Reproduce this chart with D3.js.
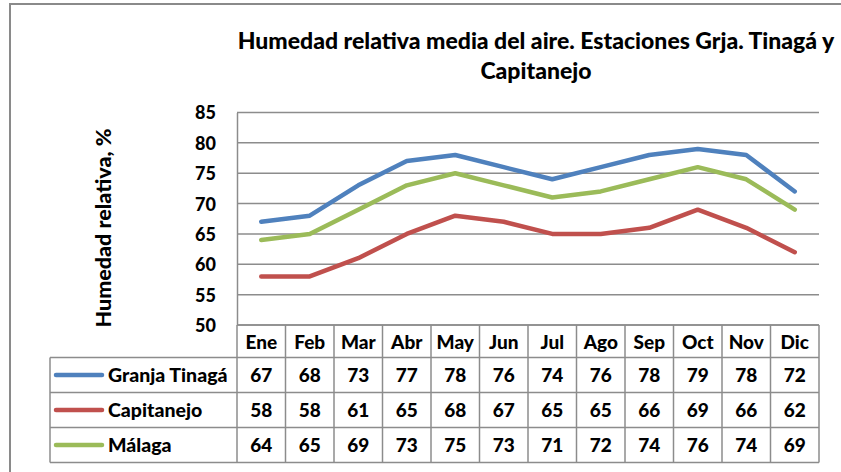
<!DOCTYPE html>
<meta charset="utf-8">
<script src="https://d3js.org/d3.v7.min.js"></script>
<style>
  body { margin: 0; background: #fff; }
  text { font-family: Lato, "Open Sans", sans-serif; font-weight: 900; fill: #000; }
</style>
<div id="chart"></div>
<script>
// data
var months = ["Ene","Feb","Mar","Abr","May","Jun","Jul","Ago","Sep","Oct","Nov","Dic"];
var seriesNames = ["Granja Tinagá","Capitanejo","Málaga"];
var granja = [67,68,73,77,78,76,74,76,78,79,78,72];
var capitanejo = [58,58,61,65,68,67,65,65,66,69,66,62];
var malaga = [64,65,69,73,75,73,71,72,74,76,74,69];
var yTicks = [50,55,60,65,70,75,80,85];
var colours = ["#4F81BD","#C0504D","#9BBB59"];

var series = [granja, capitanejo, malaga];

var W = 841, H = 472;
var plot = {left: 237, right: 819, top: 112.5, bottom: 325};
var headerH = 32.5, rowH = 35, legendLeft = 50;

var svg = d3.select("#chart").append("svg")
    .attr("width", W)
    .attr("height", H);

// outer frame (only left and top edges fall inside the picture)
svg.append("rect")
    .attr("x", 10).attr("y", 4)
    .attr("width", 900).attr("height", 600)
    .attr("fill", "none")
    .attr("stroke", "#8a8a8a")
    .attr("stroke-width", 2);

var x = d3.scaleBand().domain(months).range([plot.left, plot.right]);
var y = d3.scaleLinear().domain([50, 85]).range([plot.bottom, plot.top]);

// gridlines
svg.selectAll(".grid")
  .data(yTicks)
  .enter()
  .append("line")
    .attr("x1", plot.left).attr("x2", plot.right)
    .attr("y1", function(d) { return y(d); })
    .attr("y2", function(d) { return y(d); })
    .attr("stroke", "#8c8c8c")
    .attr("stroke-width", 1.5);

var yAxis = d3.axisLeft(y).tickValues(yTicks).tickSize(0).tickPadding(21);
var gy = svg.append("g")
    .attr("transform", "translate(" + plot.left + ",0)")
    .call(yAxis);
gy.select(".domain").attr("stroke", "#8c8c8c").attr("stroke-width", 1.5);
gy.selectAll("text")
    .style("font-size", "18px")
    .attr("dy", "0.36em");

// axis title
svg.append("text")
    .attr("transform", "translate(111,228)rotate(-90)")
    .attr("text-anchor", "middle")
    .style("font-size", "21.5px")
    .text("Humedad relativa, %");

// chart title
svg.append("text")
    .attr("x", 536).attr("y", 49)
    .attr("text-anchor", "middle")
    .style("font-size", "23px")
    .text("Humedad relativa media del aire. Estaciones Grja. Tinagá y");
svg.append("text")
    .attr("x", 536).attr("y", 79)
    .attr("text-anchor", "middle")
    .style("font-size", "23px")
    .text("Capitanejo");

// lines
var line = d3.line()
    .x(function(d, i) { return x(months[i]) + x.bandwidth() / 2; })
    .y(function(d) { return y(d); });

svg.selectAll(".series")
  .data(series)
  .enter()
  .append("path")
    .attr("d", line)
    .attr("fill", "none")
    .attr("stroke", function(d, i) { return colours[i]; })
    .attr("stroke-width", 4.5)
    .attr("stroke-linecap", "round")
    .attr("stroke-linejoin", "round");

// data table
var tableTop = plot.bottom;
var rowY = function(i) { return tableTop + headerH + i * rowH; };
var tableBottom = rowY(series.length);
var gridCol = "#8c8c8c";

var table = svg.append("g");

// horizontal rules
table.append("line")
    .attr("x1", plot.left).attr("x2", plot.right)
    .attr("y1", tableTop).attr("y2", tableTop)
    .attr("stroke", gridCol).attr("stroke-width", 1.5);
table.selectAll(".hrule")
  .data(d3.range(series.length + 1))
  .enter()
  .append("line")
    .attr("x1", legendLeft).attr("x2", plot.right)
    .attr("y1", function(d) { return rowY(d); })
    .attr("y2", function(d) { return rowY(d); })
    .attr("stroke", gridCol).attr("stroke-width", 1.5);

// vertical rules
var vx = months.map(function(m) { return x(m); }).concat([plot.right]);
table.selectAll(".vrule")
  .data(vx)
  .enter()
  .append("line")
    .attr("x1", function(d) { return d; }).attr("x2", function(d) { return d; })
    .attr("y1", tableTop).attr("y2", tableBottom)
    .attr("stroke", gridCol).attr("stroke-width", 1.5);
table.append("line")
    .attr("x1", legendLeft).attr("x2", legendLeft)
    .attr("y1", rowY(0)).attr("y2", tableBottom)
    .attr("stroke", gridCol).attr("stroke-width", 1.5);

// header labels
table.selectAll(".month")
  .data(months)
  .enter()
  .append("text")
    .attr("x", function(d) { return x(d) + x.bandwidth() / 2; })
    .attr("y", tableTop + headerH / 2 + 1)
    .attr("dy", "0.36em")
    .attr("text-anchor", "middle")
    .style("font-size", "19px")
    .text(function(d) { return d; });

// rows
var rows = table.selectAll(".row")
  .data(series)
  .enter()
  .append("g")
    .attr("transform", function(d, i) { return "translate(0," + (rowY(i) + rowH / 2) + ")"; });

rows.append("line")
    .attr("x1", 56).attr("x2", 102)
    .attr("stroke", function(d, i) { return colours[i]; })
    .attr("stroke-width", 4.5)
    .attr("stroke-linecap", "round");

rows.append("text")
    .attr("x", 108)
    .attr("dy", "0.36em")
    .style("font-size", "19.5px")
    .text(function(d, i) { return seriesNames[i]; });

rows.selectAll(".val")
  .data(function(d) { return d; })
  .enter()
  .append("text")
    .attr("x", function(d, i) { return x(months[i]) + x.bandwidth() / 2; })
    .attr("dy", "0.36em")
    .attr("text-anchor", "middle")
    .style("font-size", "19px")
    .text(function(d) { return d; });
</script>
